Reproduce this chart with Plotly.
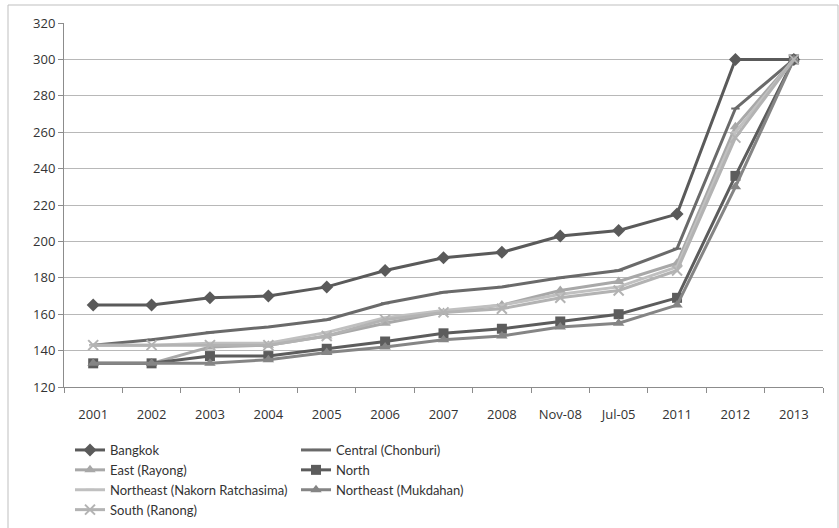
import plotly.graph_objects as go

categories = ["2001", "2002", "2003", "2004", "2005", "2006", "2007", "2008",
              "Nov-08", "Jul-05", "2011", "2012", "2013"]

bangkok = [165, 165, 169, 170, 175, 184, 191, 194, 203, 206, 215, 300, 300]
central = [143, 146, 150, 153, 157, 166, 172, 175, 180, 184, 196, 273, 300]
east = [133, 133, 142, 143, 148, 155, 161, 165, 173, 178, 188, 263, 300]
north = [133, 133, 137, 137, 141, 145, 149.5, 152, 156, 160, 169, 236, 300]
ne_nakorn = [143, 143, 144, 144, 150, 158, 162, 165, 171, 175, 186, 260, 300]
ne_mukdahan = [133, 133, 133, 135, 139, 142, 146, 148, 153, 155, 165, 230, 300]
south = [143, 143, 143, 143, 148, 157, 161, 163, 169, 173, 184, 257, 300]

yticks = [120, 140, 160, 180, 200, 220, 240, 260, 280, 300, 320]

series = [
    ("Bangkok", bangkok, "#5a5a5a", "diamond", 10, "legend"),
    ("Central (Chonburi)", central, "#6a6a6a", "line-ew", 6, "legend2"),
    ("East (Rayong)", east, "#a8a8a8", "triangle-up", 10, "legend"),
    ("North", north, "#5c5c5c", "square", 10, "legend2"),
    ("Northeast (Nakorn Ratchasima)", ne_nakorn, "#c0c0c0", "line-ew", 6, "legend"),
    ("Northeast (Mukdahan)", ne_mukdahan, "#858585", "triangle-up", 10, "legend2"),
    ("South (Ranong)", south, "#b3b3b3", "x-thin", 10, "legend"),
]

fig = go.Figure()
for name, vals, color, sym, size, leg in series:
    fig.add_trace(go.Scatter(
        x=categories, y=vals, name=name, mode="lines+markers",
        line=dict(color=color, width=3),
        marker=dict(symbol=sym, size=size, color=color,
                    line=dict(color=color, width=2 if sym in ("line-ew", "x-thin") else 0)),
        legend=leg,
    ))

font_main = "Open Sans, Liberation Sans, Arial, sans-serif"
font_leg = "Lato, Open Sans, sans-serif"

leg_common = dict(xref="container", yref="container", xanchor="left", yanchor="top",
                  orientation="v", font=dict(family=font_leg, size=13, color="#333333"),
                  bgcolor="rgba(0,0,0,0)", tracegroupgap=0)

fig.update_layout(
    width=839, height=528,
    margin=dict(l=64, r=16, t=23, b=141, autoexpand=False),
    paper_bgcolor="white", plot_bgcolor="white",
    font=dict(family=font_main, size=13, color="#333333"),
    xaxis=dict(type="category", range=[-0.5, 12.5], showgrid=False,
               showline=True, linecolor="#8c8c8c", linewidth=1,
               ticks="outside", tickson="boundaries", ticklen=5, tickcolor="#8c8c8c",
               ticklabelstandoff=15, tickfont=dict(size=13, color="#333333")),
    yaxis=dict(range=[120, 320], tickvals=yticks, showgrid=True, gridcolor="#b8b8b8",
               gridwidth=1, showline=True, linecolor="#8c8c8c", linewidth=1,
               ticks="outside", ticklen=5, tickcolor="#8c8c8c", zeroline=False,
               tickfont=dict(size=13, color="#333333")),
    legend=dict(x=70 / 839, y=1 - 435 / 528, **leg_common),
    legend2=dict(x=296 / 839, y=1 - 435 / 528, **leg_common),
    shapes=[dict(type="rect", xref="paper", yref="paper",
                 x0=(8 - 64) / 759, x1=(838 - 64) / 759,
                 y0=(387 - 530) / 364, y1=1 + 18 / 364,
                 line=dict(color="#bfbfbf", width=1), layer="below")],
)

fig.write_html("out.html")
